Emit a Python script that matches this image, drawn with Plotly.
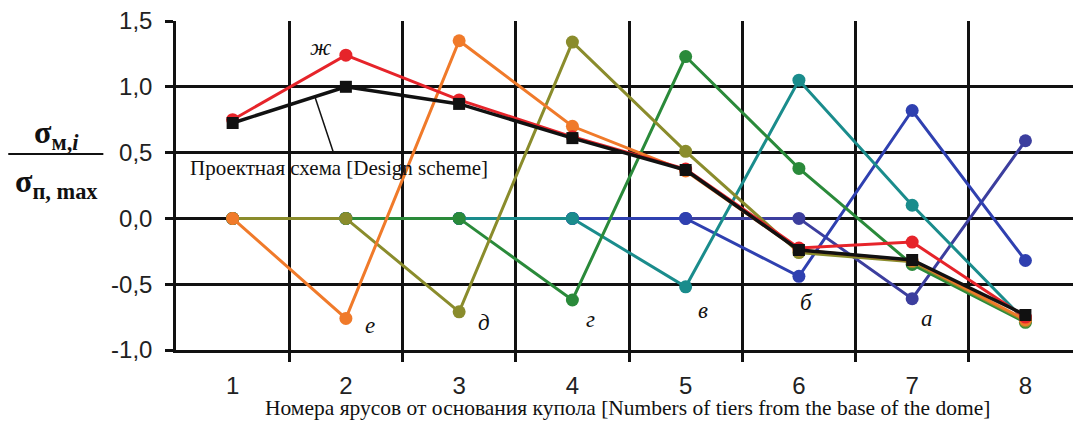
import plotly.graph_objects as go

# Tier numbers from the base of the dome
tiers = [1, 2, 3, 4, 5, 6, 7, 8]

# Normalised stresses sigma_m,i / sigma_p,max for each loading case
case_a = [0, 0, 0, 0, 0, 0, -0.61, 0.59]
case_b = [0, 0, 0, 0, 0, -0.44, 0.82, -0.32]
case_v = [0, 0, 0, 0, -0.52, 1.05, 0.10, -0.78]
case_g = [0, 0, 0, -0.62, 1.23, 0.38, -0.35, -0.79]
case_d = [0, 0, -0.71, 1.34, 0.51, -0.26, -0.33, -0.78]
case_e = [0, -0.76, 1.35, 0.70, 0.36, -0.24, -0.32, -0.77]
case_zh = [0.75, 1.24, 0.90, 0.62, 0.375, -0.225, -0.18, -0.75]
design = [0.725, 1.0, 0.87, 0.61, 0.368, -0.24, -0.316, -0.734]

# Case letters and where they are written
letters = ["а", "б", "в", "г", "д", "е", "ж"]
letter_x = [7.13, 6.07, 5.15, 4.16, 3.22, 2.21, 1.78]
letter_y = [-0.76, -0.64, -0.70, -0.77, -0.79, -0.81, 1.30]

y_ticks = [-1.0, -0.5, 0.0, 0.5, 1.0, 1.5]
y_tick_text = ["-1,0", "-0,5", "0,0", "0,5", "1,0", "1,5"]

series = [
    (case_a, "#3c3e9e"),
    (case_b, "#2f40b0"),
    (case_v, "#1a8c8c"),
    (case_g, "#2a8a3a"),
    (case_d, "#8a8c2c"),
    (case_e, "#f07a2a"),
    (case_zh, "#e6242a"),
]

SANS = "Liberation Sans"
SERIF = "Liberation Serif"
INK = "#111111"

fig = go.Figure()
for vals, col in series:
    fig.add_trace(go.Scatter(
        x=tiers, y=vals, mode="lines+markers",
        line=dict(color=col, width=3),
        marker=dict(color=col, size=13, symbol="circle"),
        showlegend=False, hoverinfo="skip",
    ))

fig.add_trace(go.Scatter(
    x=tiers, y=design, mode="lines+markers",
    line=dict(color=INK, width=3.5),
    marker=dict(color=INK, size=12, symbol="square"),
    showlegend=False, hoverinfo="skip",
))

annotations = []
for t, lx, ly in zip(letters, letter_x, letter_y):
    annotations.append(dict(
        x=lx, y=ly, xref="x", yref="y", text="<i>" + t + "</i>",
        xanchor="center", yanchor="middle",
        showarrow=False, font=dict(family=SERIF, size=23, color=INK),
    ))

# Design-scheme callout
annotations.append(dict(
    x=1.94, y=0.383, xref="x", yref="y",
    xanchor="center", yanchor="middle",
    text="Проектная схема [Design scheme]", showarrow=False,
    font=dict(family=SERIF, size=21, color=INK),
))

# Axis titles
annotations.append(dict(
    x=0.5035, y=-0.176, xref="paper", yref="paper",
    xanchor="center", yanchor="middle",
    text="Номера ярусов от основания купола [Numbers of tiers from the base of the dome]",
    showarrow=False, font=dict(family=SERIF, size=21.5, color=INK),
))
annotations.append(dict(
    x=-0.133, y=0.655, xref="paper", yref="paper",
    xanchor="center", yanchor="middle",
    text="<b>σ<sub>м,<i>i</i></sub></b>", showarrow=False,
    font=dict(family=SERIF, size=32, color=INK),
))
annotations.append(dict(
    x=-0.133, y=0.505, xref="paper", yref="paper",
    xanchor="center", yanchor="middle",
    text="<b>σ<sub>п, max</sub></b>", showarrow=False,
    font=dict(family=SERIF, size=32, color=INK),
))

shapes = [
    # leader line from the callout to the design curve
    dict(type="line", xref="x", yref="y", x0=1.89, y0=0.50, x1=1.73, y1=0.915,
         line=dict(color=INK, width=1.5)),
    # fraction bar of the y-axis title
    dict(type="line", xref="paper", yref="paper", x0=-0.187, x1=-0.081,
         y0=0.5955, y1=0.5955, line=dict(color=INK, width=2)),
]

fig.update_layout(
    width=1073, height=426,
    margin=dict(l=176, r=0, t=21, b=76),
    plot_bgcolor="white", paper_bgcolor="white",
    annotations=annotations, shapes=shapes,
    showlegend=False,
)

fig.update_xaxes(
    range=[0.5, 8.42],
    tickvals=tiers, ticktext=[str(t) for t in tiers],
    ticks="", showgrid=False,
    showline=True, linecolor=INK, linewidth=2.5,
    tickfont=dict(family=SANS, size=24, color="#222222"),
    ticklabelstandoff=12,
    zeroline=False,
    minor=dict(tickvals=[1.5, 2.5, 3.5, 4.5, 5.5, 6.5, 7.5],
               showgrid=True, gridcolor=INK, gridwidth=2.5,
               ticks="outside", ticklen=9, tickwidth=2.5, tickcolor=INK),
)
fig.update_yaxes(
    range=[-1.0, 1.5],
    tickvals=y_ticks, ticktext=y_tick_text,
    ticks="outside", ticklen=8, tickwidth=2.5, tickcolor=INK,
    showgrid=True, gridcolor=INK, gridwidth=2.5,
    showline=True, linecolor=INK, linewidth=2.5,
    zeroline=False,
    tickfont=dict(family=SANS, size=24, color="#222222"),
    ticklabelstandoff=8,
)

fig.write_html("out.html")
